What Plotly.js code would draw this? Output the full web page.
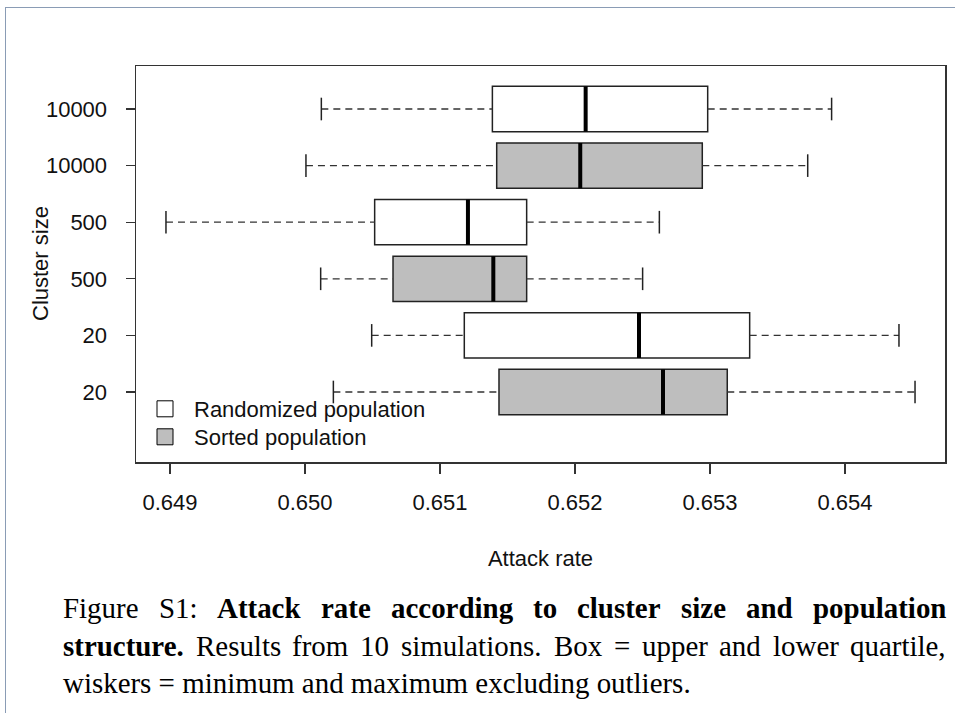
<!DOCTYPE html>
<html><head><meta charset="utf-8">
<script src="https://cdn.plot.ly/plotly-3.0.1.min.js"></script>
<style>
html,body{margin:0;padding:0;background:#fff;}
#chart{width:955px;height:713px;position:absolute;left:0;top:0;}
#frame{position:absolute;left:5px;top:7px;width:980px;height:740px;border-left:1px solid #8a9cb5;border-top:1px solid #8a9cb5;pointer-events:none;}
</style></head><body>
<div id="chart"></div><div id="frame"></div>
<script>
// ---- data ----
const rowPositions = [1, 2, 3, 4, 5, 6];
const rowLabels = ['20', '20', '500', '500', '10000', '10000'];
const xTicks = [0.649, 0.650, 0.651, 0.652, 0.653, 0.654];

// Randomized population: cluster sizes 10000, 500, 20
const randPos = [6, 4, 2];
const randMin = [0.650121, 0.648970, 0.650494];
const randQ1  = [0.651388, 0.650516, 0.651180];
const randMed = [0.652079, 0.651207, 0.652474];
const randQ3  = [0.652983, 0.651642, 0.653294];
const randMax = [0.653901, 0.652625, 0.654400];

// Sorted population: cluster sizes 10000, 500, 20
const sortPos = [5, 3, 1];
const sortMin = [0.650007, 0.650116, 0.650210];
const sortQ1  = [0.651420, 0.650652, 0.651437];
const sortMed = [0.652039, 0.651395, 0.652652];
const sortQ3  = [0.652943, 0.651642, 0.653128];
const sortMax = [0.653724, 0.652501, 0.654519];

const seriesNames = ['Randomized population', 'Sorted population'];
const xTitle = 'Attack rate';
const yTitle = 'Cluster size';

const captionLine1 = [['Figure',0],['S1:',0],['Attack',1],['rate',1],['according',1],['to',1],['cluster',1],['size',1],['and',1],['population',1]];
const captionLine2 = [['structure.',1],['Results',0],['from',0],['10',0],['simulations.',0],['Box',0],['=',0],['upper',0],['and',0],['lower',0],['quartile,',0]];
const captionLine3 = 'wiskers = minimum and maximum excluding outliers.';

// ---- styling ----
const SANS = '"Liberation Sans", Arial, Helvetica, sans-serif';
const SERIF = '"Liberation Serif", "Times New Roman", serif';
const BOXW = 0.8, CAP = 0.2;
const M = {l: 136, r: 10, t: 66, b: 251};
const PW = 955 - M.l - M.r, PH = 713 - M.t - M.b;
const px2x = p => (p - M.l) / PW;
const py2y = p => (M.t + PH - p) / PH;

function boxTrace(pos, q1, med, q3, fill) {
  return {type: 'box', orientation: 'h', y: pos, q1: q1, median: med, q3: q3,
    lowerfence: q1, upperfence: q3, width: BOXW, whiskerwidth: 0,
    fillcolor: fill, line: {color: '#222', width: 1.5}, hoverinfo: 'skip', showlegend: false};
}
function whiskers(pos, mn, q1, q3, mx) {
  const x = [], y = [];
  pos.forEach((p, i) => { x.push(mn[i], q1[i], null, q3[i], mx[i], null); y.push(p, p, null, p, p, null); });
  return {type: 'scatter', mode: 'lines', x: x, y: y, line: {color: '#333', width: 1.3, dash: '7px,5px'}, hoverinfo: 'skip', showlegend: false};
}
function caps(pos, mn, mx) {
  const x = [], y = [];
  pos.forEach((p, i) => { x.push(mn[i], mn[i], null, mx[i], mx[i], null); y.push(p - CAP, p + CAP, null, p - CAP, p + CAP, null); });
  return {type: 'scatter', mode: 'lines', x: x, y: y, line: {color: '#222', width: 1.5}, hoverinfo: 'skip', showlegend: false};
}
function medians(pos, med) {
  const x = [], y = [];
  pos.forEach((p, i) => { x.push(med[i], med[i], null); y.push(p - BOXW / 2, p + BOXW / 2, null); });
  return {type: 'scatter', mode: 'lines', x: x, y: y, line: {color: '#000', width: 4}, hoverinfo: 'skip', showlegend: false};
}

const data = [
  whiskers(randPos, randMin, randQ1, randQ3, randMax),
  whiskers(sortPos, sortMin, sortQ1, sortQ3, sortMax),
  caps(randPos, randMin, randMax),
  caps(sortPos, sortMin, sortMax),
  boxTrace(randPos, randQ1, randMed, randQ3, '#ffffff'),
  boxTrace(sortPos, sortQ1, sortMed, sortQ3, '#bebebe'),
  medians(randPos, randMed),
  medians(sortPos, sortMed),
  {type: 'scatter', mode: 'markers', x: [null], y: [null], name: seriesNames[0], legend: 'legend',
   marker: {symbol: 'square', size: 16, color: '#ffffff', line: {color: '#000', width: 1}}},
  {type: 'scatter', mode: 'markers', x: [null], y: [null], name: seriesNames[1], legend: 'legend2',
   marker: {symbol: 'square', size: 16, color: '#bebebe', line: {color: '#000', width: 1}}}
];

// ---- caption (justified, measured) ----
const cv = document.createElement('canvas').getContext('2d');
function tw(text, size, bold) { cv.font = (bold ? 'bold ' : '') + size + 'px ' + SERIF; return cv.measureText(text).width; }
let capSize = 26;
capSize = capSize * 628 / tw(captionLine3, capSize, false);
const LEFT = 62, RIGHT = 945;
const annotations = [];
function justify(words, centerY) {
  const widths = words.map(w => tw(w[0], capSize, w[1]));
  const tot = widths.reduce((a, b) => a + b, 0);
  const gap = (RIGHT - LEFT - tot) / (words.length - 1);
  let x = LEFT;
  words.forEach((w, i) => {
    annotations.push({xref: 'paper', yref: 'paper', x: px2x(x - 1), y: py2y(centerY), xanchor: 'left', yanchor: 'middle',
      showarrow: false, text: w[1] ? '<b>' + w[0] + '</b>' : w[0], font: {family: SERIF, size: capSize, color: '#000'}});
    x += widths[i] + gap;
  });
}
justify(captionLine1, 608);
justify(captionLine2, 646);
annotations.push({xref: 'paper', yref: 'paper', x: px2x(LEFT - 1), y: py2y(683), xanchor: 'left', yanchor: 'middle',
  showarrow: false, text: captionLine3, font: {family: SERIF, size: capSize, color: '#000'}});
// y-axis title placed close to the tick labels, as in the original
annotations.push({xref: 'paper', yref: 'paper', x: px2x(40), y: 0.5, xanchor: 'center', yanchor: 'middle',
  showarrow: false, textangle: -90, text: yTitle, font: {family: SANS, size: 22, color: '#111'}});

const axisCommon = {ticks: 'outside', tickwidth: 1.2, tickcolor: '#333', showline: true, mirror: true,
  linecolor: '#333', linewidth: 1.5, showgrid: false, zeroline: false,
  tickfont: {family: SANS, size: 22, color: '#111'}};

const legendCommon = {xanchor: 'left', yanchor: 'top', bgcolor: 'rgba(0,0,0,0)',
  font: {family: SANS, size: 22, color: '#111'}, itemwidth: 48};

const layout = {
  width: 955, height: 713, margin: M, paper_bgcolor: '#fff', plot_bgcolor: '#fff',
  font: {family: SANS, color: '#111'},
  boxmode: 'overlay',
  xaxis: Object.assign({}, axisCommon, {range: [0.648748, 0.654741], tickvals: xTicks, tickformat: '.3f',
    ticklen: 10, ticklabelstandoff: 10, title: {text: xTitle, font: {family: SANS, size: 22, color: '#111'}, standoff: 36}}),
  yaxis: Object.assign({}, axisCommon, {range: [-0.237, 6.76], tickvals: rowPositions, ticktext: rowLabels,
    ticklen: 9, ticklabelstandoff: 14}),
  showlegend: true,
  legend: Object.assign({}, legendCommon, {x: px2x(136), y: py2y(388)}),
  legend2: Object.assign({}, legendCommon, {x: px2x(136), y: py2y(416)}),
  annotations: annotations
};

Plotly.newPlot('chart', data, layout, {staticPlot: true, displayModeBar: false});
</script>
</body></html>
